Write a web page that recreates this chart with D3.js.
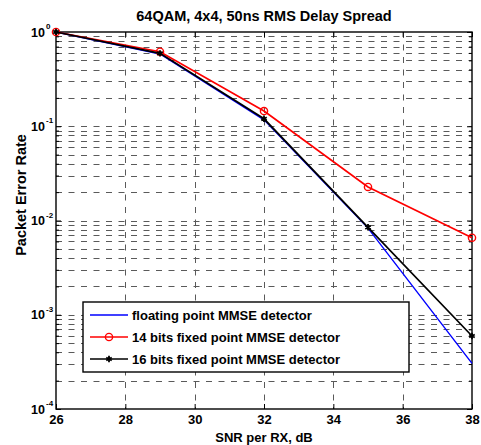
<!DOCTYPE html>
<html>
<head>
<meta charset="utf-8">
<script src="https://cdn.jsdelivr.net/npm/d3@7"></script>
<style>
  body { margin: 0; background: #fff; }
  svg text { font-family: Arial, "Liberation Sans", sans-serif; font-weight: bold; }
</style>
</head>
<body>
<script>
const snr = [26, 29, 32, 35, 38];
const floatPer = [1.0, 0.585, 0.117, 0.0083, 0.000305];
const fixed14Per = [1.0, 0.618, 0.145, 0.0227, 0.00657];
const fixed16Per = [1.0, 0.594, 0.120, 0.00847, 0.000595];
const seriesNames = ['floating point MMSE detector', '14 bits fixed point MMSE detector', '16 bits fixed point MMSE detector'];
const xTicks = [26, 28, 30, 32, 34, 36, 38];
const yExponents = [0, -1, -2, -3, -4];

const W = 481, H = 445;
const margin = { top: 32, left: 56 };
const width = 472 - margin.left;
const height = 409 - margin.top;

const svg = d3.select('body').append('svg')
  .attr('width', W)
  .attr('height', H);

const g = svg.append('g')
  .attr('transform', `translate(${margin.left},${margin.top})`);

const x = d3.scaleLinear().domain([26, 38]).range([0, width]);
const y = d3.scaleLog().domain([1e-4, 1]).range([height, 0]);

const minorVals = [];
[-4, -3, -2, -1].forEach(e => { for (let k = 2; k <= 9; k++) minorVals.push(k * Math.pow(10, e)); });
const decadeVals = yExponents.map(e => Math.pow(10, e));

// grid, dashed like matlab
const dash = '6,6.5';
const gridColor = '#5a5a5a';
g.append('g')
  .selectAll('line')
  .data(minorVals.concat(decadeVals.slice(1, 4)))
  .enter().append('line')
  .attr('x1', 0).attr('x2', width)
  .attr('y1', d => Math.round(y(d)) + 0.5).attr('y2', d => Math.round(y(d)) + 0.5)
  .attr('stroke', gridColor)
  .attr('stroke-dasharray', dash);

g.append('g')
  .selectAll('line')
  .data(xTicks.slice(1, -1))
  .enter().append('line')
  .attr('x1', d => Math.round(x(d)) + 0.5).attr('x2', d => Math.round(x(d)) + 0.5)
  .attr('y1', 0).attr('y2', height)
  .attr('stroke', gridColor)
  .attr('stroke-dasharray', dash);

// ticks inside on all four sides
const tickStyle = sel => {
  sel.select('.domain').remove();
  sel.selectAll('line').attr('stroke', '#000');
};

g.append('g')
  .attr('transform', `translate(0,${height})`)
  .call(d3.axisBottom(x).tickValues(xTicks).tickSize(-5).tickPadding(6).tickFormat(d3.format('d')))
  .call(tickStyle)
  .selectAll('text')
  .attr('fill', '#000')
  .style('font-size', '13px')
  .style('font-family', 'Arial, "Liberation Sans", sans-serif');

g.append('g')
  .call(d3.axisTop(x).tickValues(xTicks).tickSize(-5).tickFormat(''))
  .call(tickStyle);

g.append('g')
  .call(d3.axisLeft(y).tickValues(decadeVals).tickSize(-5).tickFormat(''))
  .call(tickStyle);
g.append('g')
  .call(d3.axisLeft(y).tickValues(minorVals).tickSize(-3).tickFormat(''))
  .call(tickStyle);
g.append('g')
  .attr('transform', `translate(${width},0)`)
  .call(d3.axisRight(y).tickValues(decadeVals).tickSize(-5).tickFormat(''))
  .call(tickStyle);
g.append('g')
  .attr('transform', `translate(${width},0)`)
  .call(d3.axisRight(y).tickValues(minorVals).tickSize(-3).tickFormat(''))
  .call(tickStyle);

// y tick labels 10^n
g.append('g').selectAll('text')
  .data(yExponents)
  .enter().append('text')
  .attr('x', -11)
  .attr('y', d => y(Math.pow(10, d)) + 4.5)
  .attr('text-anchor', 'end')
  .style('font-size', '12.5px')
  .text('10');
g.append('g').selectAll('text')
  .data(yExponents)
  .enter().append('text')
  .attr('x', -10)
  .attr('y', d => y(Math.pow(10, d)) - 3)
  .attr('text-anchor', 'start')
  .style('font-size', '8px')
  .text(d => d === 0 ? '0' : '-' + Math.abs(d));

// box
g.append('rect')
  .attr('width', width).attr('height', height)
  .attr('fill', 'none')
  .attr('stroke', '#000')
  .attr('stroke-width', 1.4);

// lines
const line = vals => d3.line()
  .x((d, i) => x(snr[i]))
  .y(d => y(d))(vals);

g.append('path').attr('d', line(floatPer))
  .attr('fill', 'none').attr('stroke', '#0000ff').attr('stroke-width', 1.4);
g.append('path').attr('d', line(fixed14Per))
  .attr('fill', 'none').attr('stroke', '#ff0000').attr('stroke-width', 1.7);
g.selectAll('.m14').data(fixed14Per).enter().append('circle')
  .attr('class', 'm14')
  .attr('cx', (d, i) => x(snr[i])).attr('cy', d => y(d)).attr('r', 3.6)
  .attr('fill', 'none').attr('stroke', '#ff0000').attr('stroke-width', 1.4);
g.append('path').attr('d', line(fixed16Per))
  .attr('fill', 'none').attr('stroke', '#000').attr('stroke-width', 1.7);
const star = d3.symbol().type(d3.symbolAsterisk).size(28);
g.selectAll('.m16').data(fixed16Per).enter().append('path')
  .attr('class', 'm16')
  .attr('transform', (d, i) => `translate(${x(snr[i])},${y(d)})`)
  .attr('d', star)
  .attr('fill', 'none').attr('stroke', '#000').attr('stroke-width', 1.8);

// legend
const leg = svg.append('g').attr('transform', 'translate(83,302)');
leg.append('rect').attr('width', 326).attr('height', 70)
  .attr('fill', '#fff').attr('stroke', '#000').attr('stroke-width', 1.4);
const legColors = ['#0000ff', '#ff0000', '#000'];
seriesNames.forEach((name, i) => {
  const ly = 13 + i * 22;
  leg.append('line').attr('x1', 7).attr('x2', 45).attr('y1', ly).attr('y2', ly)
    .attr('stroke', legColors[i]).attr('stroke-width', i === 0 ? 1.4 : 1.7);
  if (i === 1) {
    leg.append('circle').attr('cx', 26).attr('cy', ly).attr('r', 3.6)
      .attr('fill', 'none').attr('stroke', '#ff0000').attr('stroke-width', 1.4);
  }
  if (i === 2) {
    leg.append('path').attr('transform', `translate(26,${ly})`).attr('d', star)
      .attr('fill', 'none').attr('stroke', '#000').attr('stroke-width', 1.8);
  }
  leg.append('text').attr('x', 49).attr('y', ly + 5)
    .style('font-size', '13px').text(name);
});

// titles
svg.append('text')
  .attr('x', 264).attr('y', 21)
  .attr('text-anchor', 'middle')
  .style('font-size', '14.5px')
  .text('64QAM, 4x4, 50ns RMS Delay Spread');

svg.append('text')
  .attr('x', 264).attr('y', 442)
  .attr('text-anchor', 'middle')
  .style('font-size', '13px')
  .text('SNR per RX, dB');

svg.append('text')
  .attr('transform', 'rotate(-90)')
  .attr('x', -195).attr('y', 26)
  .attr('text-anchor', 'middle')
  .style('font-size', '14.5px')
  .text('Packet Error Rate');
</script>
</body>
</html>
